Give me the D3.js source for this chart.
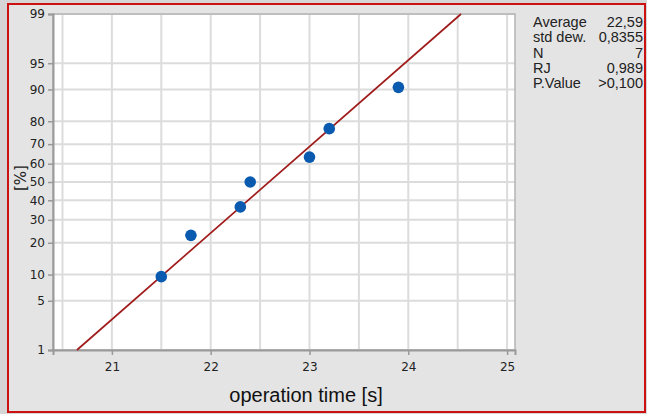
<!DOCTYPE html>
<html lang="en">
<head>
<meta charset="UTF-8">
<script src="https://d3js.org/d3.v7.min.js"></script>
<title>Probability plot</title>
<style>
  body { margin: 0; background: #d6d6d6; }
  svg { display: block; }
  .tick text { font-family: "DejaVu Sans", sans-serif; font-size: 12px; fill: #222; }
  .stats text { font-family: "Liberation Sans", Arial, sans-serif; font-size: 14.5px; fill: #222; }
</style>
</head>
<body>
<svg id="chart" width="647" height="414"></svg>
<script>
// data
var timeValues = [21.5, 21.8, 22.3, 22.4, 23.0, 23.2, 23.9];
var percentValues = [9.5, 23.0, 36.5, 50.0, 63.5, 77.0, 90.5];
var yTicks = [1, 5, 10, 20, 30, 40, 50, 60, 70, 80, 90, 95, 99];
var xTicks = [21, 22, 23, 24, 25];
var xGrid = [20.5, 21, 21.5, 22, 22.5, 23, 23.5, 24, 24.5, 25];
var fitMean = 22.59, fitSd = 0.8355;
var fitPercents = [1, 99];
var statLabels = ["Average", "std dew.", "N", "RJ", "P.Value"];
var statValues = ["22,59", "0,8355", "7", "0,989", ">0,100"];

// inverse normal cdf (Acklam)
function probit(p) {
  var a = [-39.69683028665376, 220.9460984245205, -275.9285104469687, 138.3577518672690, -30.66479806614716, 2.506628277459239];
  var b = [-54.47609879822406, 161.5858589208051, -155.6989798598866, 66.80131188771972, -13.28068155288572];
  var c = [-0.007784894002430293, -0.3223964580411365, -2.400758277161838, -2.549732539343734, 4.374664141464968, 2.938163982698783];
  var d = [0.007784695709041462, 0.3224671290700398, 2.445134137142996, 3.754408661907416];
  var q, r;
  if (p < 0.02425) {
    q = Math.sqrt(-2 * Math.log(p));
    return (((((c[0]*q+c[1])*q+c[2])*q+c[3])*q+c[4])*q+c[5]) / ((((d[0]*q+d[1])*q+d[2])*q+d[3])*q+1);
  } else if (p > 1 - 0.02425) {
    q = Math.sqrt(-2 * Math.log(1 - p));
    return -(((((c[0]*q+c[1])*q+c[2])*q+c[3])*q+c[4])*q+c[5]) / ((((d[0]*q+d[1])*q+d[2])*q+d[3])*q+1);
  }
  q = p - 0.5; r = q * q;
  return (((((a[0]*r+a[1])*r+a[2])*r+a[3])*r+a[4])*r+a[5])*q / (((((b[0]*r+b[1])*r+b[2])*r+b[3])*r+b[4])*r+1);
}

var svg = d3.select("#chart");

// panel with red frame
svg.append("rect").attr("x", 8).attr("y", 4).attr("width", 637).attr("height", 408)
  .attr("fill", "#e4e4e4").attr("stroke", "#cc1111").attr("stroke-width", 2);

var pLeft = 53, pTop = 14, pRight = 515, pBottom = 350;

var x = d3.scaleLinear().domain([20.404, 25.08]).range([pLeft, pRight]);
var zScale = d3.scaleLinear().domain([probit(0.01), probit(0.99)]).range([pBottom, pTop]);
function y(pct) { return zScale(probit(pct / 100)); }

svg.append("rect").attr("x", pLeft).attr("y", pTop).attr("width", pRight - pLeft).attr("height", pBottom - pTop)
  .attr("fill", "#fff");

// grid
svg.append("g").selectAll("line").data(xGrid).enter().append("line")
  .attr("x1", function(d){ return x(d); }).attr("x2", function(d){ return x(d); })
  .attr("y1", pTop).attr("y2", pBottom)
  .attr("stroke", "#dcdcdc").attr("stroke-width", 2);
svg.append("g").selectAll("line").data(yTicks).enter().append("line")
  .attr("x1", pLeft).attr("x2", pRight)
  .attr("y1", function(d){ return y(d); }).attr("y2", function(d){ return y(d); })
  .attr("stroke", "#dcdcdc").attr("stroke-width", 2);

// frame
svg.append("rect").attr("x", pLeft).attr("y", pTop).attr("width", pRight - pLeft).attr("height", pBottom - pTop)
  .attr("fill", "none").attr("stroke", "#b4b4b4").attr("stroke-width", 1.5);

// axes
var yAxis = svg.append("g").attr("transform", "translate(" + pLeft + ",0)")
  .call(d3.axisLeft(zScale).tickValues(yTicks.map(function(p){ return probit(p / 100); }))
    .tickFormat(function(d, i){ return yTicks[i]; }).tickSize(5).tickPadding(3));
var xAxis = svg.append("g").attr("transform", "translate(0," + pBottom + ")")
  .call(d3.axisBottom(x).tickValues(xTicks).tickFormat(d3.format("d")).tickSize(5).tickPadding(7));
[yAxis, xAxis].forEach(function(a){
  a.select(".domain").attr("stroke", "#999").attr("stroke-width", 2);
  a.selectAll(".tick line").attr("stroke", "#999").attr("stroke-width", 1.5);
});

// fit line
svg.append("path")
  .datum(fitPercents)
  .attr("fill", "none").attr("stroke", "#a01c1c").attr("stroke-width", 1.7)
  .attr("d", d3.line()
    .x(function(p){ return x(fitMean + probit(p / 100) * fitSd); })
    .y(function(p){ return y(p); }));

// points
svg.append("g").selectAll("circle").data(timeValues).enter().append("circle")
  .attr("cx", function(d){ return x(d); })
  .attr("cy", function(d, i){ return y(percentValues[i]); })
  .attr("r", 5.8).attr("fill", "#0a5bb0");

// axis titles
svg.append("text").attr("transform", "translate(26,178) rotate(-90)")
  .attr("text-anchor", "middle").attr("font-family", "DejaVu Sans, sans-serif")
  .attr("font-size", 15).attr("fill", "#222").text("[%]");
svg.append("text").attr("x", 306).attr("y", 402)
  .attr("text-anchor", "middle").attr("font-family", "Liberation Sans, Arial, sans-serif")
  .attr("font-size", 20).attr("fill", "#111").text("operation time [s]");

// stats box
var stats = svg.append("g").attr("class", "stats");
stats.selectAll("text.lab").data(statLabels).enter().append("text").attr("class", "lab")
  .attr("x", 533).attr("y", function(d, i){ return 27 + i * 15.3; }).text(function(d){ return d; });
stats.selectAll("text.val").data(statValues).enter().append("text").attr("class", "val")
  .attr("x", 643).attr("y", function(d, i){ return 27 + i * 15.3; })
  .attr("text-anchor", "end").text(function(d){ return d; });
</script>
</body>
</html>
